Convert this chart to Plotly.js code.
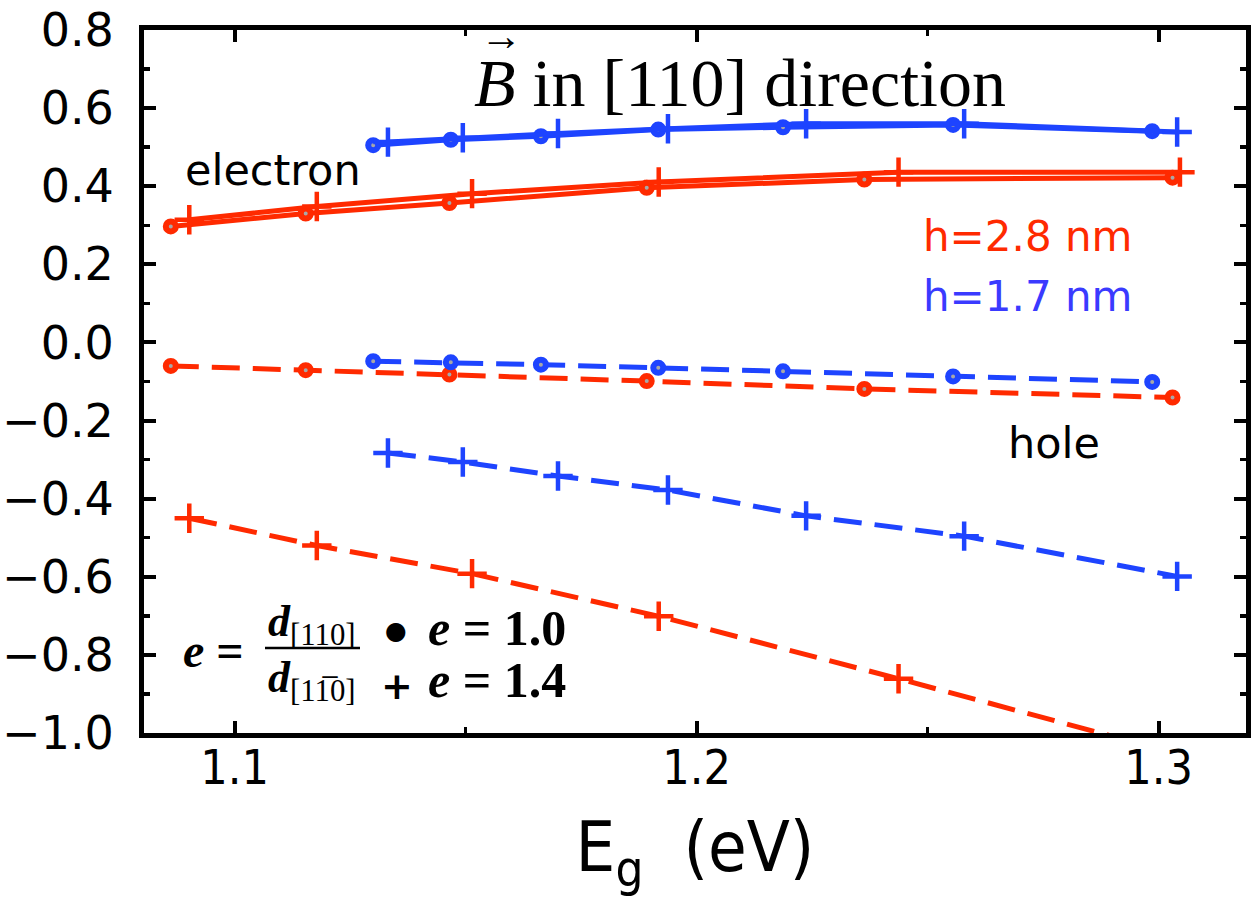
<!DOCTYPE html>
<html><head><meta charset="utf-8">
<script src="https://cdn.plot.ly/plotly-3.0.1.min.js"></script>
<style>html,body{margin:0;padding:0;background:#fff}#chart{width:1258px;height:910px}</style>
</head><body><div id="chart"></div>
<script>
// ---- data ----
const egRedE10  = [1.0862, 1.1154, 1.1465, 1.1892, 1.2363, 1.3030];
const egRedE14  = [1.0902, 1.1178, 1.1514, 1.1918, 1.2437, 1.3046];
const egBlueE10 = [1.1300, 1.1468, 1.1663, 1.1917, 1.2187, 1.2555, 1.2986];
const egBlueE14 = [1.1332, 1.1494, 1.1700, 1.1938, 1.2237, 1.2579, 1.3040];

const electronRedE10  = [0.297, 0.330, 0.357, 0.396, 0.417, 0.422];
const electronRedE14  = [0.314, 0.348, 0.381, 0.411, 0.436, 0.436];
const holeRedE10      = [-0.060, -0.071, -0.082, -0.099, -0.119, -0.141];
const holeRedE14      = [-0.450, -0.520, -0.592, -0.701, -0.861, -1.055];
const electronBlueE10 = [0.505, 0.519, 0.528, 0.545, 0.551, 0.557, 0.541];
const electronBlueE14 = [0.513, 0.524, 0.535, 0.547, 0.560, 0.560, 0.539];
const holeBlueE10     = [-0.048, -0.051, -0.057, -0.065, -0.074, -0.087, -0.101];
const holeBlueE14     = [-0.283, -0.306, -0.342, -0.378, -0.444, -0.496, -0.599];

const xRange = [1.0804, 1.3189];
const yRange = [-1.0, 0.8];

// ---- styles ----
const RED = '#ff2a00', BLUE = '#1e44ff', BLUE_TXT = '#3a3aff';
const DASH = '28px,13px';

function circleTrace(x, y, color, dashed) {
  return {x, y, type:'scatter', mode:'lines+markers', showlegend:false, hoverinfo:'skip',
    line:{color, width:5, dash: dashed ? DASH : 'solid'},
    marker:{symbol:'circle', size:10, color:'#a8a8a8', line:{color, width:6}}};
}
function plusTrace(x, y, color, dashed) {
  return {x, y, type:'scatter', mode:'lines+markers', showlegend:false, hoverinfo:'skip',
    line:{color, width:5, dash: dashed ? DASH : 'solid'},
    marker:{symbol:'cross-thin', size:21, color, line:{color, width:4.5}}};
}

const traces = [
  circleTrace(egRedE10, holeRedE10, RED, true),
  plusTrace(egRedE14, holeRedE14, RED, true),
  circleTrace(egBlueE10, holeBlueE10, BLUE, true),
  plusTrace(egBlueE14, holeBlueE14, BLUE, true),
  circleTrace(egRedE10, electronRedE10, RED, false),
  plusTrace(egRedE14, electronRedE14, RED, false),
  circleTrace(egBlueE10, electronBlueE10, BLUE, false),
  plusTrace(egBlueE14, electronBlueE14, BLUE, false)
];

// plot area in pixels: x 144..1246, y 30..733
const L = 144, R = 1246, T = 30, B = 733;
const px = v => (v - L) / (R - L);
const py = v => (B - v) / (B - T);

const SANS = 'DejaVu Sans, Verdana, sans-serif';
const NARROW = 'Liberation Sans Narrow, DejaVu Sans Condensed, Liberation Sans, sans-serif';
const SERIF = 'Liberation Serif, DejaVu Serif, serif';

function ann(text, x, y, size, family, color, xanchor) {
  return {text, xref:'paper', yref:'paper', x:px(x), y:py(y), showarrow:false,
    xanchor: xanchor || 'center', yanchor:'middle',
    font:{size, family, color: color || '#000'}};
}

const annotations = [
  ann('\u2192', 501, 36, 42, SERIF),
  ann('electron', 273, 170, 43, SANS),
  ann('hole', 1054, 443, 43, SANS),
  ann('h=2.8 nm', 1028, 236, 42, SANS, RED),
  ann('h=1.7 nm', 1028, 296, 42, SANS, BLUE_TXT),
  ann('<b><i>e</i> =</b>', 213, 650, 48, SERIF),
  ann('<b><i>d</i></b><sub>[110]</sub>', 312, 624, 44, SERIF),
  ann('<b><i>d</i></b><sub>[11\u03050]</sub>', 312, 680, 44, SERIF),
  ann('\u25CF', 396, 630, 25, SANS),
  ann('<b>+</b>', 397, 686, 38, SANS),
  ann('<b><i>e</i> = 1.0</b>', 426, 628, 50, SERIF, '#000', 'left'),
  ann('<b><i>e</i> = 1.4</b>', 426, 680, 50, SERIF, '#000', 'left')
];

const shapes = [
  {type:'line', xref:'paper', yref:'paper', x0:px(265), x1:px(360), y0:py(648), y1:py(648),
   line:{color:'#000', width:2.5}}
];

const baseAxis = {
  showgrid:false, zeroline:false, showline:true, linecolor:'#000', linewidth:5,
  mirror:'ticks', ticks:'inside', ticklen:12, tickwidth:4, tickcolor:'#000'
};

const layout = {
  width:1258, height:910,
  margin:{l:L, r:1258-R, t:T, b:910-B},
  paper_bgcolor:'#fff', plot_bgcolor:'#fff',
  showlegend:false,
  title:{text:'<i>B</i> in [110] direction', font:{family:SERIF, size:68, color:'#000'},
    xref:'paper', x:px(740), xanchor:'center', yref:'container', y:1-82/910, yanchor:'middle'},
  xaxis: Object.assign({}, baseAxis, {
    range:xRange, tickmode:'linear', tick0:1.1, dtick:0.1, tickformat:'.1f',
    tickfont:{family:NARROW, size:48, color:'#000'}, ticklabelstandoff:-12,
    minor:{dtick:0.05, tick0:1.1, ticks:'inside', ticklen:6, tickwidth:3.5, tickcolor:'#000'},
    title:{text:'E<sub>g</sub>  (eV)', font:{family:NARROW, size:70, color:'#000'}, standoff:30}
  }),
  yaxis: Object.assign({}, baseAxis, {
    range:yRange, tickmode:'linear', tick0:0, dtick:0.2, tickformat:'.1f',
    tickfont:{family:SANS, size:46, color:'#000'}, ticklabelstandoff:16,
    minor:{dtick:0.1, tick0:0, ticks:'inside', ticklen:6, tickwidth:3.5, tickcolor:'#000'}
  }),
  xaxis2: {overlaying:'x', anchor:'y', side:'bottom', range:xRange, showgrid:false, zeroline:false,
    showline:false, showticklabels:false, ticks:'outside', ticklen:12, tickwidth:4, tickcolor:'#000',
    tickmode:'linear', tick0:1.1, dtick:0.1,
    minor:{dtick:0.05, tick0:1.1, ticks:'outside', ticklen:6, tickwidth:3.5, tickcolor:'#000'}},
  yaxis2: {overlaying:'y', anchor:'x', side:'left', range:yRange, showgrid:false, zeroline:false,
    showline:false, showticklabels:false, ticks:'outside', ticklen:12, tickwidth:4, tickcolor:'#000',
    tickmode:'linear', tick0:0, dtick:0.2,
    minor:{dtick:0.1, tick0:0, ticks:'outside', ticklen:6, tickwidth:3.5, tickcolor:'#000'}},
  annotations, shapes
};

Plotly.newPlot('chart', traces, layout, {staticPlot:true, displayModeBar:false});
</script>
</body></html>
